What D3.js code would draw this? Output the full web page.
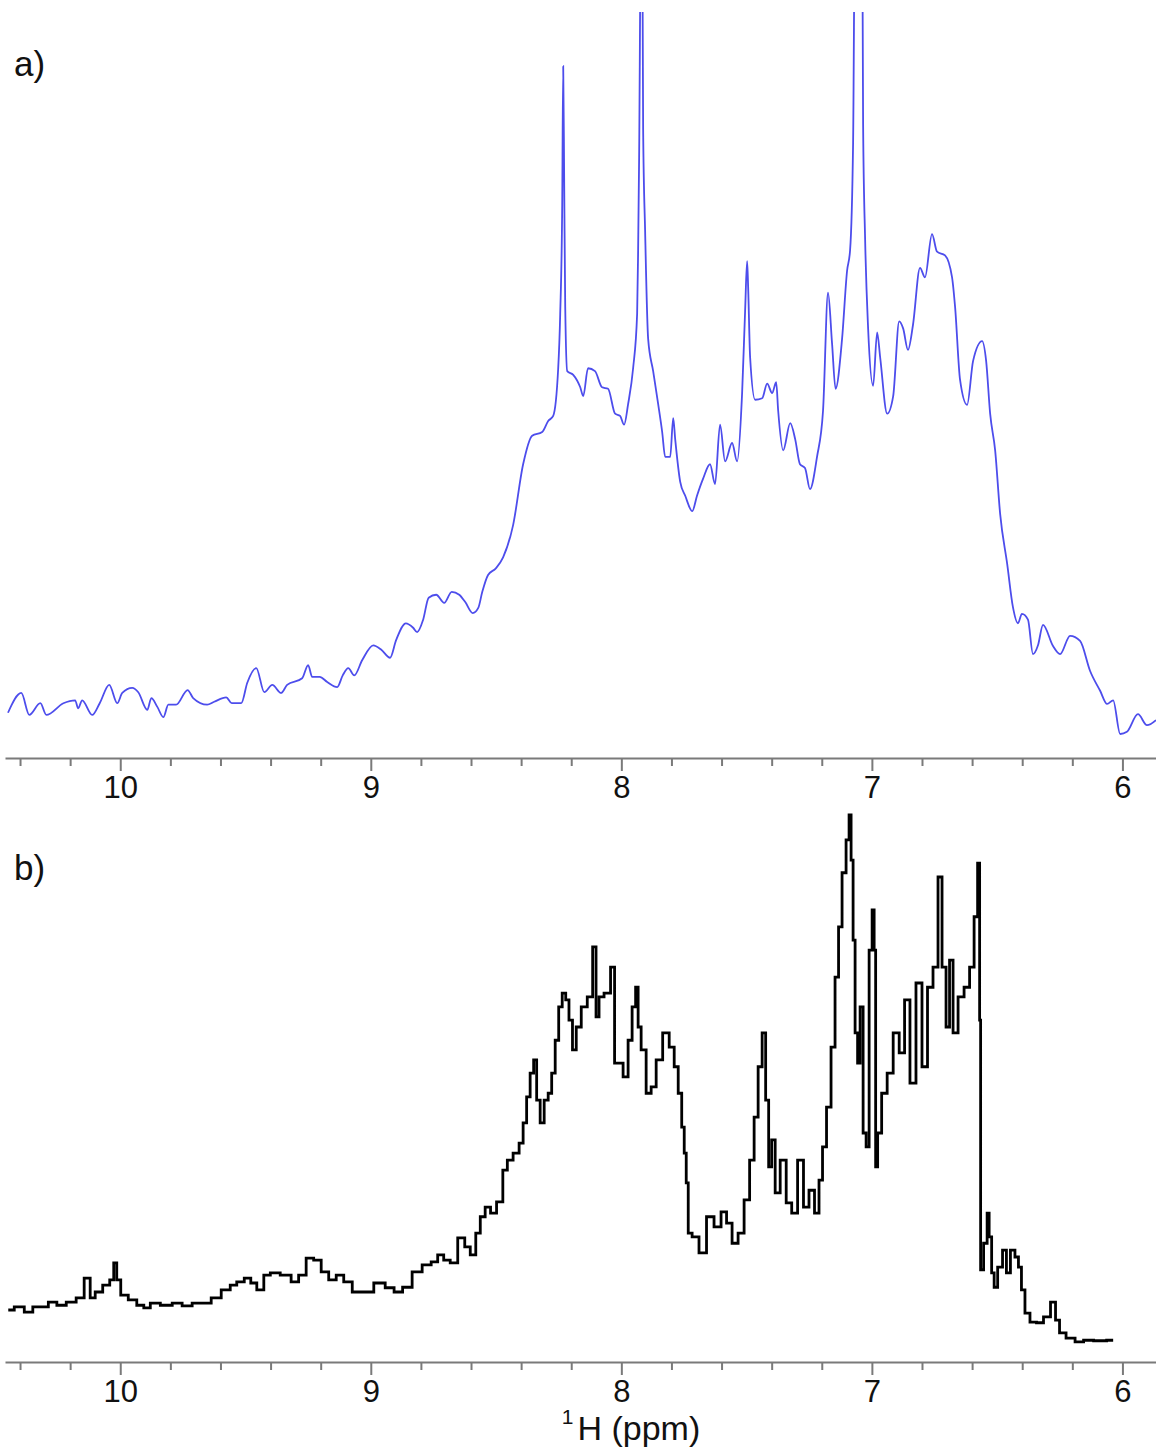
<!DOCTYPE html>
<html>
<head>
<meta charset="utf-8">
<script src="https://cdn.jsdelivr.net/npm/d3@7"></script>
<style>
  html, body { margin: 0; padding: 0; background: #ffffff; }
  svg { display: block; }
  text { font-family: "Liberation Sans", Arial, sans-serif; }
</style>
</head>
<body>
<svg id="chart" width="1156" height="1448"></svg>
<script>
// ---------- DATA ----------
// Panel a) (blue spectrum): chemical shift (ppm) and relative intensity
const ppmA = [10.448,10.395,10.363,10.319,10.295,10.227,10.180,10.168,10.152,10.112,10.082,10.044,10.012,9.992,9.952,9.928,9.892,9.876,9.852,9.828,9.808,9.777,9.731,9.709,9.653,9.625,9.577,9.555,9.517,9.493,9.457,9.425,9.393,9.358,9.334,9.274,9.250,9.234,9.204,9.174,9.134,9.112,9.090,9.066,9.034,8.990,8.958,8.923,8.899,8.860,8.831,8.815,8.791,8.769,8.739,8.707,8.677,8.647,8.623,8.593,8.571,8.555,8.532,8.501,8.472,8.432,8.392,8.356,8.316,8.292,8.272,8.252,8.244,8.236,8.232,8.228,8.224,8.216,8.192,8.164,8.152,8.133,8.105,8.077,8.053,8.025,8.005,7.989,7.973,7.953,7.937,7.933,7.929,7.921,7.917,7.913,7.905,7.893,7.873,7.853,7.837,7.825,7.805,7.793,7.785,7.765,7.745,7.717,7.698,7.674,7.646,7.626,7.606,7.586,7.558,7.538,7.518,7.506,7.498,7.494,7.486,7.466,7.438,7.418,7.398,7.382,7.374,7.354,7.326,7.306,7.287,7.267,7.247,7.219,7.195,7.175,7.159,7.145,7.119,7.099,7.087,7.075,7.067,7.039,7.035,7.027,7.015,6.995,6.979,6.967,6.939,6.915,6.891,6.875,6.856,6.836,6.808,6.788,6.760,6.740,6.708,6.680,6.668,6.648,6.620,6.596,6.560,6.544,6.528,6.508,6.488,6.460,6.437,6.417,6.401,6.377,6.357,6.337,6.317,6.277,6.249,6.209,6.169,6.129,6.089,6.061,6.037,6.009,5.982,5.938,5.902,5.866];
const intensityA = [4.4,7.1,4.1,5.7,4.1,5.7,6.1,5.0,6.1,4.1,5.7,8.2,5.7,7.1,7.8,7.2,4.8,6.4,5.2,3.8,5.5,5.5,7.5,6.4,5.5,5.9,6.5,5.7,5.7,8.5,10.5,7.2,8.2,7.1,8.2,9.1,10.9,9.3,9.3,8.6,7.9,9.5,10.5,9.5,11.6,13.6,13.0,11.9,14.3,16.6,16.0,15.4,17.1,20.1,20.5,19.4,20.9,20.5,19.5,18.0,18.7,20.9,23.2,24.1,25.6,30.0,38.3,42.2,42.7,44.2,44.9,51.4,58.8,73.8,92.6,76.3,59.8,51.0,50.5,48.8,47.6,51.4,51.0,48.8,48.6,45.2,44.9,43.7,46.5,51.4,58.8,67.5,80.2,115,115,84.0,70.0,55.4,51.0,46.5,42.7,39.3,39.3,44.6,41.7,35.9,34.0,31.9,34.0,36.3,38.3,35.6,43.7,38.7,41.2,38.7,48.0,59.2,66.0,62.6,52.9,47.1,47.3,49.3,48.0,49.5,45.6,40.2,43.9,41.7,38.3,37.8,34.9,39.3,45.6,61.7,54.8,48.6,55.4,64.7,67.5,82.1,115,115,84.6,69.0,56.8,49.0,56.3,52.9,45.2,47.6,57.8,56.8,53.9,57.3,65.1,63.8,69.7,67.3,66.8,63.8,59.8,49.8,46.4,52.4,55.1,52.4,45.2,40.2,31.5,24.7,18.8,16.6,17.9,17.1,12.4,13.6,16.4,13.5,12.4,14.9,14.2,10.1,7.4,5.6,6.1,1.5,1.8,4.2,2.7,3.4];

// Panel b) (black spectrum)
const ppmB = [10.447,10.399,10.367,10.331,10.307,10.267,10.239,10.192,10.160,10.128,10.112,10.088,10.052,10.032,10.020,10.008,9.988,9.948,9.920,9.892,9.868,9.812,9.773,9.733,9.693,9.653,9.621,9.573,9.549,9.521,9.489,9.469,9.441,9.413,9.389,9.334,9.302,9.274,9.242,9.214,9.182,9.154,9.122,9.094,9.054,9.014,8.962,8.923,8.891,8.855,8.815,8.775,8.743,8.723,8.695,8.671,8.635,8.615,8.591,8.571,8.555,8.532,8.512,8.484,8.462,8.448,8.416,8.400,8.384,8.372,8.356,8.344,8.332,8.316,8.300,8.284,8.272,8.256,8.244,8.228,8.216,8.202,8.188,8.172,8.148,8.124,8.105,8.097,8.081,8.057,8.029,8.025,8.005,7.981,7.965,7.949,7.937,7.929,7.913,7.889,7.873,7.849,7.821,7.797,7.781,7.765,7.753,7.745,7.737,7.729,7.706,7.674,7.646,7.614,7.590,7.570,7.546,7.522,7.498,7.478,7.462,7.446,7.430,7.418,7.406,7.394,7.378,7.354,7.330,7.310,7.283,7.263,7.239,7.219,7.203,7.191,7.171,7.155,7.139,7.127,7.111,7.095,7.087,7.079,7.071,7.063,7.051,7.043,7.027,7.019,7.003,6.995,6.987,6.983,6.971,6.951,6.927,6.903,6.879,6.860,6.836,6.812,6.788,6.768,6.744,6.728,6.712,6.696,6.684,6.668,6.644,6.620,6.600,6.584,6.572,6.568,6.564,6.544,6.536,6.528,6.516,6.508,6.488,6.469,6.457,6.437,6.421,6.409,6.397,6.381,6.357,6.329,6.301,6.273,6.261,6.241,6.209,6.169,6.141,6.089,6.037];
const intensityB = [6.6,7.2,6.2,7.2,7.2,8.1,7.5,8.1,8.9,12.6,8.9,10.0,11.3,12.3,15.5,12.3,9.4,8.5,7.5,7.0,7.9,7.5,7.9,7.4,7.9,7.9,8.9,10.4,11.3,11.9,12.6,11.7,10.4,13.2,13.6,13.2,11.9,13.2,16.4,16.0,13.8,12.3,13.2,11.9,10.0,10.0,11.7,10.8,10.0,10.9,13.8,15.1,15.7,17.0,16.0,15.5,20.2,18.5,17.0,21.1,24.2,26.0,24.9,27.0,33.0,34.9,36.2,38.1,41.9,46.8,51.3,53.8,46.2,41.9,46.2,47.5,51.3,57.5,63.8,66.4,65.1,61.3,55.7,60.0,63.8,65.7,75.1,61.9,65.7,66.4,71.3,53.2,53.2,50.6,57.5,63.8,67.5,60.0,55.7,47.5,48.7,53.8,58.9,56.2,52.5,47.5,41.1,36.2,30.6,21.1,20.4,17.4,24.2,22.3,25.1,23.0,19.2,21.1,27.4,34.9,43.0,52.5,58.9,46.2,33.6,38.7,28.7,34.9,26.8,24.9,34.9,26.0,29.2,24.9,31.1,37.4,44.9,56.2,69.4,78.9,89.1,95.3,100,91.5,76.4,58.9,53.2,63.8,40.0,37.4,74.5,82.1,74.5,33.6,40.0,47.5,51.3,58.9,55.1,65.1,49.4,68.3,52.5,67.5,71.3,88.3,71.3,60.0,72.6,58.9,65.7,67.5,71.3,80.8,90.9,61.3,14.2,19.2,24.9,20.4,13.6,10.9,14.7,17.9,13.6,17.9,16.6,14.7,10.4,6.0,4.3,4.2,5.3,8.1,4.7,2.3,1.3,0.6,0.9,0.8,0.9];

// Axis ticks
const majorTicks = [10, 9, 8, 7, 6];
const minorTicks = [10.4, 10.2, 9.8, 9.6, 9.4, 9.2, 8.8, 8.6, 8.4, 8.2, 7.8, 7.6, 7.4, 7.2, 6.8, 6.6, 6.4, 6.2];
const panelLabels = ["a)", "b)"];
const axisTitleSup = "1";
const axisTitleMain = "H (ppm)";

// ---------- DRAW ----------
const svg = d3.select("#chart");
svg.append("rect").attr("width", 1156).attr("height", 1448).attr("fill", "#ffffff");

const x = d3.scaleLinear().domain([10.46, 5.866]).range([5, 1156]);

const panels = [
  { ppm: ppmA, val: intensityA, axisY: 758, yRange: [745, 12], clipTop: 12,
    color: "#4d4dec", width: 1.8, curve: d3.curveMonotoneX, label: panelLabels[0], labelY: 76 },
  { ppm: ppmB, val: intensityB, axisY: 1362, yRange: [1345, 815], clipTop: 800,
    color: "#000000", width: 2.8, curve: d3.curveStep, label: panelLabels[1], labelY: 880 }
];

const defs = svg.append("defs");

panels.forEach((p, i) => {
  const y = d3.scaleLinear().domain([0, 100]).range(p.yRange);
  const data = d3.zip(p.ppm, p.val);

  defs.append("clipPath").attr("id", "clip" + i)
    .append("rect").attr("x", 0).attr("y", p.clipTop)
    .attr("width", 1156).attr("height", p.axisY - p.clipTop - 2);

  const line = d3.line()
    .x(d => x(d[0]))
    .y(d => y(d[1]))
    .curve(p.curve);

  svg.append("path")
    .datum(data)
    .attr("clip-path", "url(#clip" + i + ")")
    .attr("fill", "none")
    .attr("stroke", p.color)
    .attr("stroke-width", p.width)
    .attr("stroke-linejoin", "miter")
    .attr("d", line);

  // minor ticks
  const gMinor = svg.append("g")
    .attr("transform", `translate(0,${p.axisY})`)
    .call(d3.axisBottom(x).tickValues(minorTicks).tickSize(8).tickSizeOuter(0).tickFormat(""));
  gMinor.select(".domain").remove();
  gMinor.selectAll(".tick line").attr("stroke", "#7a7a7a").attr("stroke-width", 2);

  // major ticks + labels + axis line
  const gMajor = svg.append("g")
    .attr("transform", `translate(0,${p.axisY})`)
    .call(d3.axisBottom(x).tickValues(majorTicks).tickSize(13).tickSizeOuter(0).tickPadding(5).tickFormat(d3.format("d")));
  gMajor.select(".domain").attr("stroke", "#7a7a7a").attr("stroke-width", 2);
  gMajor.selectAll(".tick line").attr("stroke", "#7a7a7a").attr("stroke-width", 2);
  gMajor.selectAll(".tick text")
    .attr("font-family", "Liberation Sans, Arial, sans-serif")
    .attr("font-size", 31)
    .attr("fill", "#111");

  svg.append("text")
    .attr("x", 14).attr("y", p.labelY)
    .attr("font-size", 35)
    .attr("fill", "#111")
    .text(p.label);
});

// axis title
const title = svg.append("text")
  .attr("x", 631).attr("y", 1440)
  .attr("text-anchor", "middle")
  .attr("fill", "#111");
title.append("tspan").attr("font-size", 21).attr("dy", -16).text(axisTitleSup);
title.append("tspan").attr("font-size", 34).attr("dy", 16).attr("dx", 4).text(axisTitleMain);
</script>
</body>
</html>
